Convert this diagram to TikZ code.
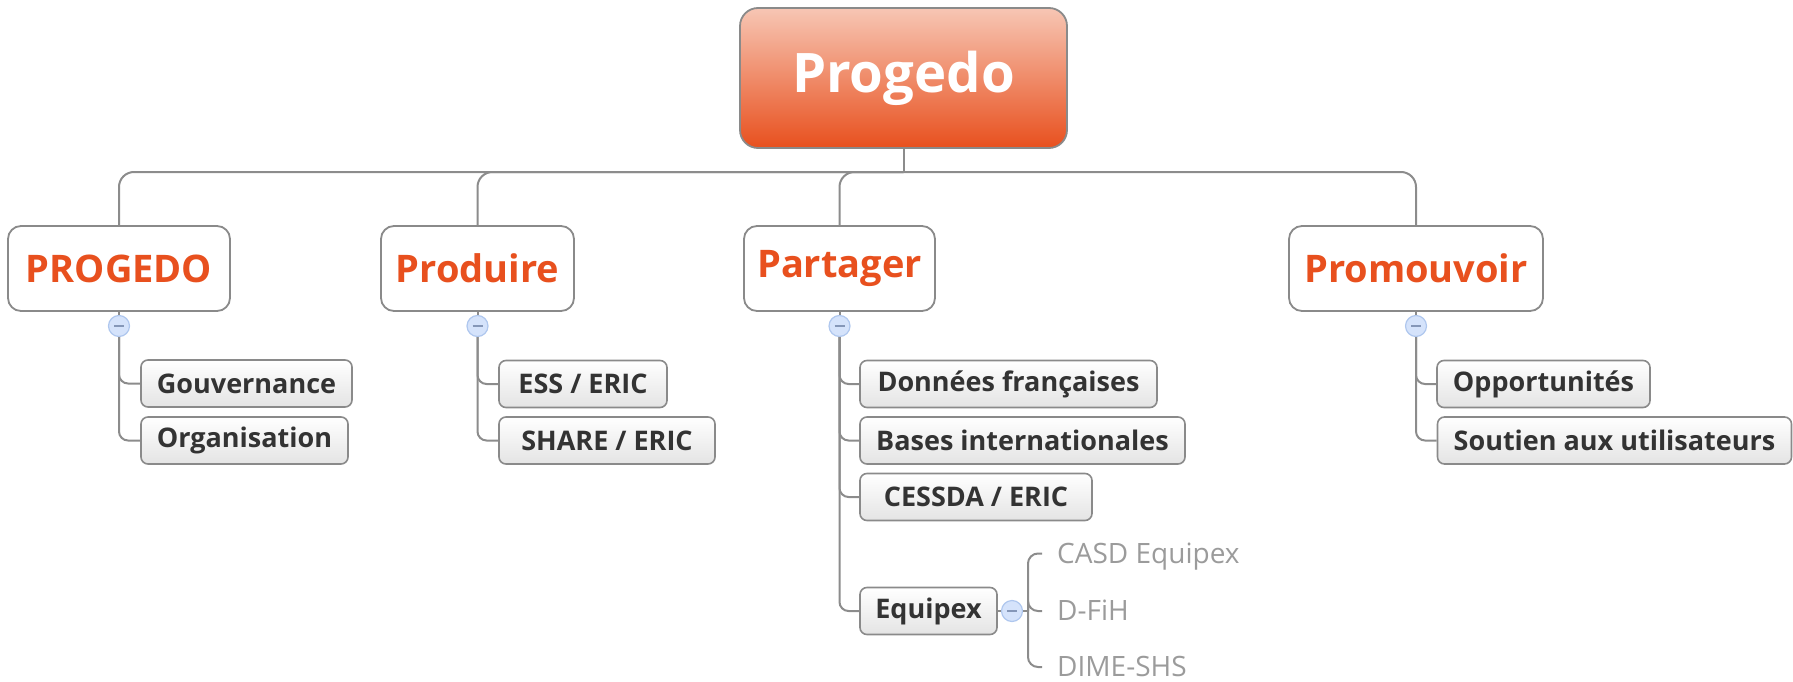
\documentclass[tikz,border=0pt]{standalone}
\usepackage{fontspec}
\setmainfont{Open Sans}
\definecolor{orng}{HTML}{E8501E}
\definecolor{rootTop}{HTML}{F7C6B4}
\definecolor{linec}{HTML}{8C8C8C}
\definecolor{boxline}{HTML}{8A8A8A}
\definecolor{subtxt}{HTML}{333333}
\definecolor{leaftxt}{HTML}{9B9B9B}
\definecolor{cfill}{HTML}{D5E3FB}
\definecolor{cline}{HTML}{AFC7EE}
\definecolor{cminus}{HTML}{8597B8}
\definecolor{subbot}{HTML}{E4E4E4}
\begin{document}
\begin{tikzpicture}[x=1pt,y=-1pt,
 rootbox/.style={draw=boxline, line width=1.8pt, rounded corners=18pt, top color=rootTop, bottom color=orng, minimum width=327pt, minimum height=140pt, text=white, font=\fontsize{54.5}{60}\selectfont\bfseries, inner sep=0pt},
 headbox/.style={draw=boxline, line width=1.8pt, rounded corners=13pt, fill=white, minimum height=85pt, text=orng, font=\fontsize{38}{44}\selectfont\bfseries, inner sep=0pt},
 subbox/.style={draw=boxline, line width=1.6pt, rounded corners=7pt, top color=white, bottom color=subbot, minimum height=47pt, text=subtxt, font=\fontsize{27}{32}\selectfont\bfseries, inner sep=0pt},
 leaf/.style={anchor=west, inner xsep=15pt, inner ysep=0pt, text height=19pt, text depth=0pt, text=leaftxt, font=\fontsize{28}{32}\selectfont},
 toggle/.style={circle, draw=cline, fill=cfill, line width=1.2pt, minimum size=21pt, inner sep=0pt, path picture={\draw[cminus, line width=1.6pt] ([xshift=-5pt]path picture bounding box.center) -- ([xshift=5pt]path picture bounding box.center);}},
 conn/.style={draw=linec, line width=2pt},
]
\useasboundingbox (0,0) rectangle (1793,682);

% root
\node[rootbox] (root) at (903.5,78) {Progedo};

% main topics
\node[headbox, minimum width=222pt] (h1) at (119,268.5) {PROGEDO};
\node[headbox, minimum width=193pt] (h2) at (477.5,268.5) {Produire};
\node[headbox, minimum width=191pt] (h3) at (839.5,268.5) {Partager};
\node[headbox, minimum width=254pt] (h4) at (1416,268.5) {Promouvoir};

% toggles
\node[toggle] (c1) at (119,326) {};
\node[toggle] (c2) at (477.5,326) {};
\node[toggle] (c3) at (839.5,326) {};
\node[toggle] (c4) at (1416,326) {};

% subtopics
\node[subbox, minimum width=211pt] (s11) at (246.5,383.5) {Gouvernance};
\node[subbox, minimum width=207pt] (s12) at (244.5,440.5) {Organisation};
\node[subbox, minimum width=168pt] (s21) at (583,384) {ESS / ERIC};
\node[subbox, minimum width=216pt] (s22) at (607,440.5) {SHARE / ERIC};
\node[subbox, minimum width=297pt] (s31) at (1008.5,384) {Données françaises};
\node[subbox, minimum width=325pt] (s32) at (1022.5,440.5) {Bases internationales};
\node[subbox, minimum width=232pt] (s33) at (976,497) {CESSDA / ERIC};
\node[subbox, minimum width=137pt] (s34) at (928.5,611) {Equipex};
\node[subbox, minimum width=213pt] (s41) at (1543.5,384) {Opportunités};
\node[subbox, minimum width=354pt] (s42) at (1614.5,440.5) {Soutien aux utilisateurs};

\node[toggle] (c5) at (1012,611) {};

% leaves
\node[leaf] (l1) at (1042,553.5) {CASD Equipex};
\node[leaf] (l2) at (1042,611) {D-FiH};
\node[leaf] (l3) at (1042,667) {DIME-SHS};

% connectors root -> topics
\coordinate (bus) at (903.5,172);
\draw[conn] (root.south) -- (bus);
\foreach \h in {h1,h2,h3,h4}
  \draw[conn, rounded corners=15pt] (bus) -| (\h.north);

% topics -> toggles
\foreach \h/\c in {h1/c1,h2/c2,h3/c3,h4/c4}
  \draw[conn] (\h.south) -- (\c.north);

% toggles -> subtopics
\foreach \c/\s in {c1/s11,c1/s12,c2/s21,c2/s22,c3/s31,c3/s32,c3/s33,c3/s34,c4/s41,c4/s42}
  \draw[conn, rounded corners=9pt] (\c.south) |- (\s.west);

% Equipex -> leaves
\draw[conn] (s34.east) -- (c5.west);
\coordinate (j) at (1028,611);
\draw[conn] (c5.east) -- (j);
\foreach \l in {l1,l2,l3}
  \draw[conn, rounded corners=10pt] (j) |- (\l.west);
\end{tikzpicture}
\end{document}
